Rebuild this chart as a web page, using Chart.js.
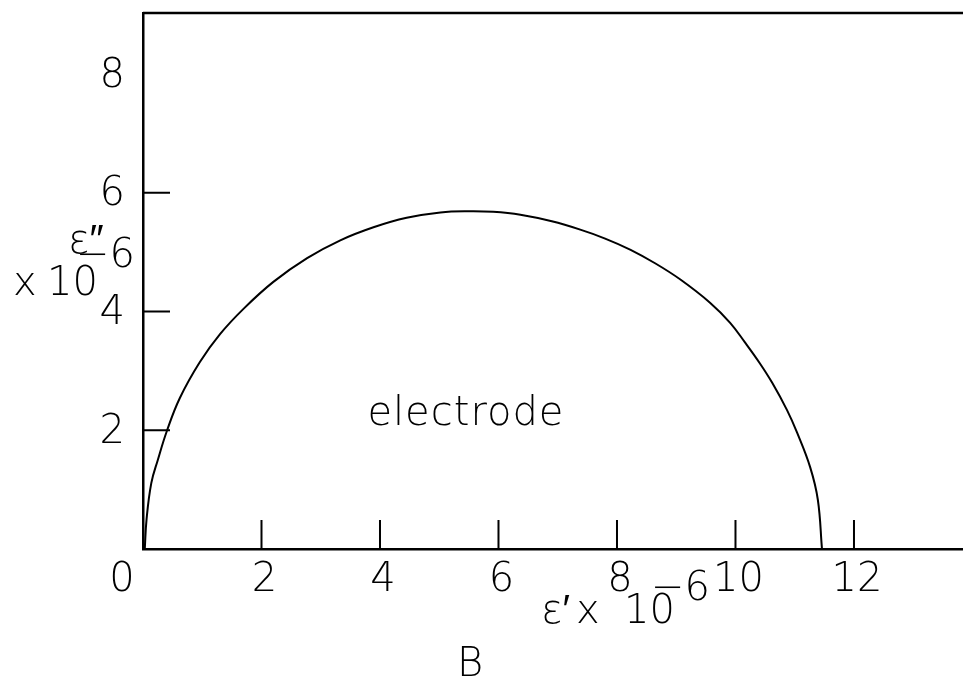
<!DOCTYPE html>
<html>
<head>
<meta charset="utf-8">
<script src="https://cdn.jsdelivr.net/npm/chart.js"></script>
<style>
  html, body { margin: 0; padding: 0; background: #fff; overflow: hidden; }
</style>
</head>
<body>
<canvas id="plot" width="963" height="683"></canvas>
<script>
// ---------------------
// DATA
// ---------------------
// Cole-Cole arc for the electrode: eps' (x 10^-6) vs eps'' (x 10^-6)
const epsReal = [0.03, 0.06, 0.14, 0.25, 0.40, 0.62, 0.96, 1.30, 1.70, 2.20, 2.77, 3.33, 3.89, 4.45, 5.02,
                 5.50, 5.91, 6.37, 6.90, 7.38, 7.80, 8.23, 8.65, 9.07, 9.57, 9.91, 10.16, 10.41, 10.62,
                 10.87, 11.04, 11.26, 11.39, 11.46];
const epsImag = [0.00, 0.50, 1.11, 1.50, 1.98, 2.54, 3.15, 3.62, 4.05, 4.50, 4.90, 5.20, 5.42, 5.58, 5.67,
                 5.69, 5.68, 5.63, 5.52, 5.38, 5.23, 5.04, 4.81, 4.54, 4.15, 3.81, 3.48, 3.13, 2.80,
                 2.34, 1.96, 1.38, 0.83, 0.00];

const xTickMarks = [2, 4, 6, 8, 10, 12];
const xTickLabels = ['0', '2', '4', '6', '8', '10', '12'];
const yTickMarks = [2, 4, 6];
const yTickLabels = ['2', '4', '6', '8'];

const curveLabel = 'electrode';
const panelLabel = 'B';

const FONT = '"DejaVu Sans", "Liberation Sans", sans-serif';
const font = (size) => `200 ${size}px ${FONT}`;

// ---------------------
// AXES, TICKS AND LABELS
// ---------------------
const frame = {
  id: 'frame',
  afterDraw(chart) {
    const { ctx, chartArea: area, scales: { x, y } } = chart;
    ctx.save();
    ctx.strokeStyle = '#000';
    ctx.fillStyle = '#000';

    // top border
    ctx.lineWidth = 2.5;
    ctx.beginPath();
    ctx.moveTo(area.left, area.top);
    ctx.lineTo(area.right, area.top);
    ctx.stroke();

    // inward tick marks
    ctx.lineWidth = 2;
    ctx.beginPath();
    xTickMarks.forEach(v => {
      const px = x.getPixelForValue(v);
      ctx.moveTo(px, area.bottom);
      ctx.lineTo(px, area.bottom - 29);
    });
    yTickMarks.forEach(v => {
      const py = y.getPixelForValue(v);
      ctx.moveTo(area.left, py);
      ctx.lineTo(area.left + 27, py);
    });
    ctx.stroke();

    // tick labels
    ctx.font = font(40);
    ctx.textAlign = 'center';
    ctx.textBaseline = 'middle';
    xTickLabels.forEach(t => {
      const v = Number(t);
      // the zero sits left of the vertical axis
      const px = v === 0 ? x.getPixelForValue(v) - 21 : x.getPixelForValue(v) + 3;
      ctx.fillText(t, px, area.bottom + 32);
    });
    ctx.textAlign = 'right';
    yTickLabels.forEach(t => {
      ctx.fillText(t, area.left - 18, y.getPixelForValue(Number(t)) + 2);
    });

    // x axis title: eps' x 10^-6
    ctx.textAlign = 'left';
    ctx.textBaseline = 'alphabetic';
    ctx.fillText('\u03b5\u2032', 541, 623);
    ctx.fillText('x', 576, 623);
    ctx.fillText('10', 624, 623);
    ctx.fillText('\u22126', 651, 600);

    // y axis title: eps'' x 10^-6
    ctx.fillText('\u03b5\u2033', 68, 253);
    ctx.fillText('\u22126', 76, 267);
    ctx.fillText('x', 13, 295);
    ctx.fillText('10', 47, 295);

    // panel letter
    ctx.textAlign = 'center';
    ctx.fillText(panelLabel, 470, 676);

    // curve name, placed in data space inside the arc
    ctx.font = font(40);
    ctx.letterSpacing = '1px';
    ctx.fillText(curveLabel, x.getPixelForValue(5.45), y.getPixelForValue(2.09));
    ctx.restore();
  }
};

// ---------------------
// CHART
// ---------------------
new Chart(document.getElementById('plot'), {
  type: 'scatter',
  data: {
    datasets: [{
      data: epsReal.map((v, i) => ({ x: v, y: epsImag[i] })),
      showLine: true,
      borderColor: '#000',
      borderWidth: 2,
      pointRadius: 0,
      tension: 0.4
    }]
  },
  options: {
    responsive: false,
    animation: false,
    layout: { padding: { left: 143, top: 13, right: 0, bottom: 134 } },
    plugins: { legend: { display: false }, tooltip: { enabled: false } },
    scales: {
      x: {
        type: 'linear', min: 0, max: 13.84,
        ticks: { display: false },
        grid: { display: false, drawTicks: false },
        border: { display: true, color: '#000', width: 2.5 }
      },
      y: {
        type: 'linear', min: 0, max: 9.03,
        ticks: { display: false },
        grid: { display: false, drawTicks: false },
        border: { display: true, color: '#000', width: 2.5 }
      }
    }
  },
  plugins: [frame]
});
</script>
</body>
</html>
